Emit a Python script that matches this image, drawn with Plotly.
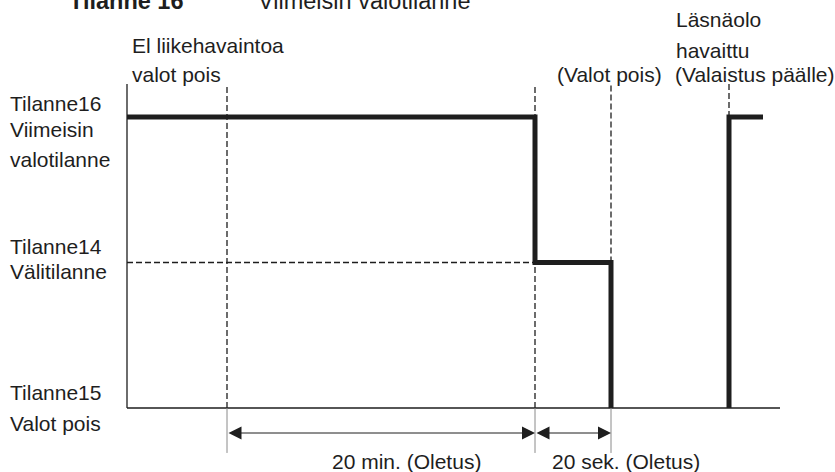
import plotly.graph_objects as go

# ---- schematic data (time in schematic units, levels = lighting states) ----
state_levels = {"Tilanne15": 0, "Tilanne14": 1, "Tilanne16": 2}

t_start = 0.0          # start of timeline (y axis)
t_no_motion = 1.0      # "El liikehavaintoa / valot pois"
t_hold_end = 4.08      # end of 20 min delay -> intermediate level
t_fade_end = 4.84      # end of 20 sec delay -> lights off
t_presence = 6.02      # presence detected -> light back on
t_signal_end = 6.36
t_axis_end = 6.53
guide_top = 2.227      # top of guide / axis lines
ext_bottom = -0.309    # bottom of extension lines
arrow_level = -0.172   # level of dimension arrows

# signal segments
seg1_t = [t_start, t_hold_end, t_fade_end]
seg1_lvl = [2, 1, 0]
seg2_t = [t_presence, t_signal_end]
seg2_lvl = [0, 2]

# dimension arrows (from, to, label)
dims = [(t_no_motion, t_hold_end, "20 min. (Oletus)", 2.03),
        (t_hold_end, t_fade_end, "20 sek. (Oletus)", 4.23)]

INK = "#1e1e1e"
GREY = "#8a8a8a"
FONT = "Liberation Sans, Arial, Helvetica, sans-serif"
FS = 21

fig = go.Figure()
fig.add_trace(go.Scatter(x=seg1_t, y=seg1_lvl, mode="lines", line_shape="hv",
                         line=dict(color=INK, width=5), hoverinfo="skip"))
fig.add_trace(go.Scatter(x=seg2_t, y=seg2_lvl, mode="lines", line_shape="vh",
                         line=dict(color=INK, width=5), hoverinfo="skip"))

shapes = []
# axes
shapes.append(dict(type="line", x0=t_start, x1=t_start, y0=0, y1=guide_top,
                   line=dict(color=INK, width=1.3)))
shapes.append(dict(type="line", x0=t_start, x1=t_axis_end, y0=0, y1=0,
                   line=dict(color=INK, width=1.6)))
# dashed guides
dash = "6px,3px"
guides = [(t_no_motion, 0), (t_hold_end, 0), (t_fade_end, 1), (t_presence, 2)]
for t, lo in guides:
    shapes.append(dict(type="line", x0=t, x1=t, y0=lo, y1=guide_top,
                       line=dict(color=INK, width=1.3, dash=dash)))
shapes.append(dict(type="line", x0=t_start, x1=t_hold_end, y0=1, y1=1,
                   line=dict(color=INK, width=1.3, dash=dash)))
# extension lines under axis
for t in [t_no_motion, t_hold_end, t_fade_end]:
    shapes.append(dict(type="line", x0=t, x1=t, y0=0, y1=ext_bottom,
                       line=dict(color=GREY, width=1)))

annotations = []
for a, b, label, lx in dims:
    annotations.append(dict(x=b, y=arrow_level, ax=a, ay=arrow_level,
                            xref="x", yref="y", axref="x", ayref="y",
                            text="", showarrow=True, arrowside="end+start",
                            arrowhead=2, arrowsize=2.6, arrowwidth=1,
                            arrowcolor=INK, standoff=0, startstandoff=0))
    annotations.append(dict(x=lx, y=-0.366, text=label, showarrow=False,
                            xanchor="left", yanchor="middle"))

labels = [
    (-1.19, 2.096, "Tilanne16"), (-1.19, 1.911, "Viimeisin"), (-1.19, 1.711, "valotilanne"),
    (-1.19, 1.107, "Tilanne14"), (-1.19, 0.935, "Välitilanne"),
    (-1.19, 0.103, "Tilanne15"), (-1.19, -0.110, "Valot pois"),
    (0.03, 2.488, "El liikehavaintoa"), (0.03, 2.289, "valot pois"),
    (5.47, 2.667, "Läsnäolo"), (5.47, 2.460, "havaittu"),
    (4.28, 2.289, "(Valot pois)"), (5.46, 2.289, "(Valaistus päälle)"),
]
for x, y, txt in labels:
    annotations.append(dict(x=x, y=y, text=txt, showarrow=False,
                            xanchor="left", yanchor="middle"))
# title (partly cut at the top edge, as in the reference)
for x, txt in [(-0.60, "<b>Tilanne 16</b>"), (1.29, "Viimeisin valotilanne")]:
    annotations.append(dict(x=x, y=2.795, text=txt, showarrow=False,
                            xanchor="left", yanchor="middle",
                            font=dict(size=23.5)))

fig.update_layout(
    width=835, height=472, margin=dict(l=0, r=0, t=0, b=0),
    paper_bgcolor="white", plot_bgcolor="white", showlegend=False,
    font=dict(family=FONT, size=FS, color=INK),
    xaxis=dict(range=[-1.27, 7.08], visible=False, fixedrange=True),
    yaxis=dict(range=[-0.44, 2.804], visible=False, fixedrange=True),
    shapes=shapes, annotations=annotations,
)
fig.write_html("out.html", config={"displayModeBar": False},
               post_script="document.body.style.margin='0';document.body.style.overflow='hidden';")
